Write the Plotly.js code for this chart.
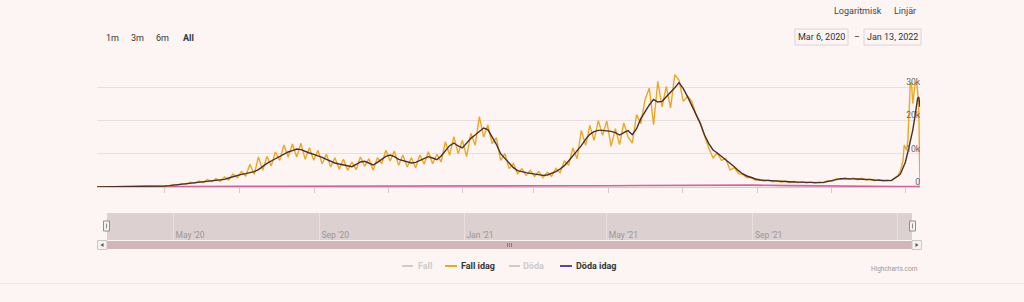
<!DOCTYPE html>
<html><head><meta charset="utf-8">
<script src="https://cdn.plot.ly/plotly-3.0.1.min.js"></script>
<style>html,body{margin:0;padding:0;background:#fdf4f4;}#chart{width:1024px;height:302px;}</style>
</head><body><div id="chart"></div>
<script>
// ---- data ----
const startDate = '2020-03-06';
const endDate = '2022-01-13';
const caseIntervalDays = 3.5;   // sampling interval of the regular part (like pointInterval)

// "Fall idag" – daily cases, sampled every 3.5 days from startDate
const casesDaily = [0,20,10,40,20,60,40,70,50,100,80,150,120,200,150,250,350,350,700,600,
1000,800,1400,1100,1800,1300,2200,1600,2500,1700,3000,2100,3900,2800,4600,3300,6800,3800,9000,5000,
9200,6300,10500,8000,12600,9000,12900,9000,13100,8300,11800,8000,11000,7000,9800,6000,8800,5300,8300,5000,
7500,5200,9000,6200,8500,5000,8800,7000,11000,7800,10800,6500,9600,6000,8800,5800,9600,6800,10600,7000,
9800,7500,13600,9500,15100,10000,14000,9100,16100,12500,21100,15000,18600,13000,14800,8000,10000,5500,7000,4000,
5500,3500,5000,3200,4600,2800,4400,3200,5600,4300,7800,6500,11700,8500,17000,12500,18500,14000,19900,15500,
19800,12200,17500,12700,19200,15000,13200,21700,19000,26200,29700,18700,31700,24000,30200,23700,33700,32000,25700,27200,
25700,21700,19000,15000,11700,8700,10200,8000,8500,5100,5800,4000,3800,2800,2900,2000,2300,1700,2100,1600,
1900,1400,1800,1300,1700,1300,1600,1200,1500,1100,1500,1300,1900,1700,2500,2300,2800,2300,2700,2200,
2600,2100,2400,1900,2200,1700,2100,1900,3000];
// last days, day offsets from startDate
const casesTailDays = [660,662,664,665,666,667,668,669,670,671,672,673,674,675,676,677,678];
const casesTail = [3500,5000,8000,12600,12000,11000,14000,22000,31000,31500,25000,28000,31000,31500,29000,23000,0];

// dark average line, same sampling
const avgDaily = [0,10,20,30,30,40,50,50,60,80,100,120,140,160,180,200,300,400,550,700,
850,1000,1100,1300,1400,1600,1700,1900,2000,2100,2300,2700,3100,3500,3800,4000,4300,4600,5200,6200,
7100,7800,8500,9200,9900,10500,10900,11400,11200,10600,10200,9800,9400,8900,8300,7700,7200,6900,6700,6400,
6100,6800,7500,7700,7200,6600,7400,8400,9200,9600,9100,8300,7900,7600,7200,7400,8000,8600,9100,8700,
8200,9300,10800,12400,13200,12300,11700,13200,14600,15600,16600,17700,17200,15000,12800,10000,8500,7000,5800,4900,
4500,4300,4100,3900,3700,3500,3600,4000,4600,5400,6400,7800,9300,10700,12400,14300,15800,16600,17000,17000,
16900,16700,16300,15600,16300,16900,15700,17500,20500,22600,24600,26300,25500,25700,27000,28400,29800,31300,29500,27100,
24600,21800,19100,15600,13000,11100,10200,9200,8200,7200,6100,4900,3900,3300,2800,2400,2100,2000,1900,1800,
1700,1650,1600,1550,1500,1450,1400,1400,1350,1300,1300,1400,1600,1900,2200,2500,2550,2500,2450,2400,
2400,2350,2200,2100,2000,1900,1900,2000,2800];
const avgTailDays = [660,662,664,666,668,670,672,674,676,677,678];
const avgTail = [3300,4000,5500,7500,10500,13500,17000,21500,26500,27000,24000];

// "Döda idag"
const deathDays = [25,40,60,90,120,150,180,210,240,270,300,330,360,390,420,450,480,510,540,570,600,630,660,678];
const deathsDaily = [30,80,120,160,200,220,220,200,200,230,280,320,330,350,380,450,550,600,550,400,250,150,130,100];

const yTickVals = [0,10000,20000,30000];
const yTickText = ['0','10k','20k','30k'];
const legendNames = ['Fall','Fall idag','Döda','Döda idag'];
const rangeButtons = ['1m','3m','6m','All'];
const scaleButtons = ['Logaritmisk','Linjär'];
const rangeInputs = ['Mar 6, 2020','Jan 13, 2022'];

// ---- helpers ----
const DAY = 86400000;
const t0 = Date.parse(startDate);
const dayToDate = d => new Date(t0 + d*DAY).toISOString().slice(0,19).replace('T',' ');
const gridDates = n => Array.from({length:n}, (_,i) => dayToDate(i*caseIntervalDays));

const caseX = gridDates(casesDaily.length).concat(casesTailDays.map(dayToDate));
const caseY = casesDaily.concat(casesTail);
const avgX = gridDates(avgDaily.length).concat(avgTailDays.map(dayToDate));
const avgY = avgDaily.concat(avgTail);
const deathX = deathDays.map(dayToDate);

const C_CASES = '#eca824', C_AVG = '#4a2e2b', C_DEATH = '#c9689b', C_DEATH_LEG = '#574a93';

const traces = [
  {x: deathX, y: deathsDaily, type:'scatter', mode:'lines', name:'Döda idag',
   line:{color:C_DEATH, width:1.6}, hoverinfo:'skip', xaxis:'x', yaxis:'y'},
  {x: caseX, y: caseY, type:'scatter', mode:'lines', name:'Fall idag',
   line:{color:C_CASES, width:1.4}, xaxis:'x', yaxis:'y'},
  {x: avgX, y: avgY, type:'scatter', mode:'lines', name:'Fall (medel)',
   line:{color:C_AVG, width:1.4}, xaxis:'x', yaxis:'y'},
  // navigator subplot (its series is not drawn in the reference)
  {x: [], y: [], type:'scatter', mode:'lines', name:'navigator', xaxis:'x2', yaxis:'y2', showlegend:false}
];

const W = 1024, H = 302;
const px = x => x / W, py = y => 1 - y / H;
const rect = (x0,y0,x1,y1,fill,line,layer) => ({type:'rect', xref:'paper', yref:'paper',
  x0:px(x0), x1:px(x1), y0:py(y1), y1:py(y0), fillcolor:fill,
  line: line ? {color:line, width:1} : {width:0}, layer: layer || 'above'});
const seg = (x0,y0,x1,y1,color,w) => ({type:'line', xref:'paper', yref:'paper',
  x0:px(x0), x1:px(x1), y0:py(y0), y1:py(y1), line:{color:color, width:w||1}, layer:'above'});
const tri = (pts,color) => ({type:'path', xref:'paper', yref:'paper',
  path: 'M ' + pts.map(p => px(p[0]) + ' ' + py(p[1])).join(' L ') + ' Z',
  fillcolor:color, line:{width:0}, layer:'above'});

const shapes = [
  // navigator mask (drawn in the navigator subplot, beneath its grid)
  {type:'rect', xref:'x2 domain', yref:'y2 domain', x0:0, x1:1, y0:0, y1:1,
   fillcolor:'#ddd0d0', line:{width:0}, layer:'below'},
  rect(107,241,912,249,'#d0b6b6',null,'above'),
  rect(97.5,240.5,107,249.5,'#f7f1f1','#c8c8c8'),
  rect(912,240.5,921.5,249.5,'#f7f1f1','#c8c8c8'),
  tri([[103.5,243],[100.5,245],[103.5,247]],'#555'),
  tri([[915.5,243],[918.5,245],[915.5,247]],'#555'),
  seg(507.5,243,507.5,247,'#8a7a7a'), seg(509.5,243,509.5,247,'#8a7a7a'), seg(511.5,243,511.5,247,'#8a7a7a'),
  rect(103.5,221,109.5,231,'#f4f2f2','#8f8f8f'),
  seg(106.5,223.5,106.5,228.5,'#8f8f8f'),
  rect(909.5,221,915.5,231,'#f4f2f2','#8f8f8f'),
  seg(912.5,223.5,912.5,228.5,'#8f8f8f'),
  // range input boxes
  rect(795,29,848,45,'rgba(0,0,0,0)','#dcd4d4'),
  rect(864,29,921,45,'rgba(0,0,0,0)','#dcd4d4'),
  // legend symbols
  seg(402,266,413,266,'#cccccc',2),
  seg(445,266,457,266,C_CASES,2),
  seg(509,266,520,266,'#cccccc',2),
  seg(560,266,572,266,C_DEATH_LEG,2),
  // bottom container border
  seg(0,283.5,1024,283.5,'#efe3e3',1)
];

const ann = (text,x,y,opts) => Object.assign({text:text, xref:'paper', yref:'paper',
  x:px(x), y:py(y), xanchor:'left', yanchor:'middle', showarrow:false,
  font:{size:9, color:'#333', family:'Roboto, sans-serif'}}, opts||{});

const annotations = [
  ann(scaleButtons[0],832,11,{font:{size:9,color:'#444',family:'Roboto, sans-serif'}}),
  ann(scaleButtons[1],892,11,{font:{size:9,color:'#444',family:'Roboto, sans-serif'}}),
  ann(rangeInputs[0],821.5,37,{xanchor:'center'}),
  ann('–',857,37,{xanchor:'center'}),
  ann(rangeInputs[1],892.5,37,{xanchor:'center'}),
  ann(rangeButtons[0],104,38),
  ann(rangeButtons[1],129,38),
  ann(rangeButtons[2],154,38),
  ann('<b>'+rangeButtons[3]+'</b>',181,38),
  ann('<b>'+legendNames[0]+'</b>',416,266,{font:{size:9,color:'#cccccc',family:'Roboto, sans-serif'}}),
  ann('<b>'+legendNames[1]+'</b>',459,266),
  ann('<b>'+legendNames[2]+'</b>',521,266,{font:{size:9,color:'#cccccc',family:'Roboto, sans-serif'}}),
  ann('<b>'+legendNames[3]+'</b>',574,266),
  ann('Highcharts.com',869,269,{font:{size:6.5,color:'#999',family:'Roboto, sans-serif'}})
];

const layout = {
  width: W, height: H, margin:{l:0,r:0,t:0,b:0},
  paper_bgcolor:'#fdf4f4', plot_bgcolor:'rgba(0,0,0,0)',
  showlegend:false, hovermode:false,
  font:{family:'Roboto, sans-serif', size:9, color:'#333'},
  xaxis:{type:'date', domain:[px(97),px(920)], range:[startDate,endDate], anchor:'y',
    showgrid:false, zeroline:false, showline:true, linecolor:'#d6caca',
    ticks:'outside', ticklen:5, tickcolor:'#d6caca', tick0:'2020-01-01', dtick:'M2',
    showticklabels:false, fixedrange:true},
  yaxis:{domain:[py(187),py(70)], range:[0,35100], anchor:'x', side:'right',
    tickmode:'array', tickvals:yTickVals, ticktext:yTickText,
    showgrid:true, gridcolor:'#eadede', gridwidth:1, zeroline:false, showline:false,
    ticks:'', ticklabelposition:'inside', ticklabelshift:-5, ticklabelstandoff:-3,
    tickfont:{size:8.5, color:'#666', family:'Roboto, sans-serif'}, fixedrange:true},
  xaxis2:{type:'date', domain:[px(107),px(912)], range:[startDate,endDate], anchor:'y2',
    showgrid:true, gridcolor:'#e9dfdf', zeroline:false, showline:false, ticks:'',
    tick0:'2020-01-01', dtick:'M4', tickformat:"%b '%y",
    ticklabelposition:'inside right', ticklabelstandoff:-6, ticklabelshift:2, layer:'above traces',
    tickfont:{size:8.5, color:'#999', family:'Roboto, sans-serif'}, fixedrange:true},
  yaxis2:{domain:[py(240),py(213)], range:[0,1], anchor:'x2', showgrid:false, zeroline:false,
    showline:false, showticklabels:false, ticks:'', fixedrange:true},
  shapes: shapes,
  annotations: annotations
};

Plotly.newPlot('chart', traces, layout, {displayModeBar:false, staticPlot:true});
</script>
</body></html>
